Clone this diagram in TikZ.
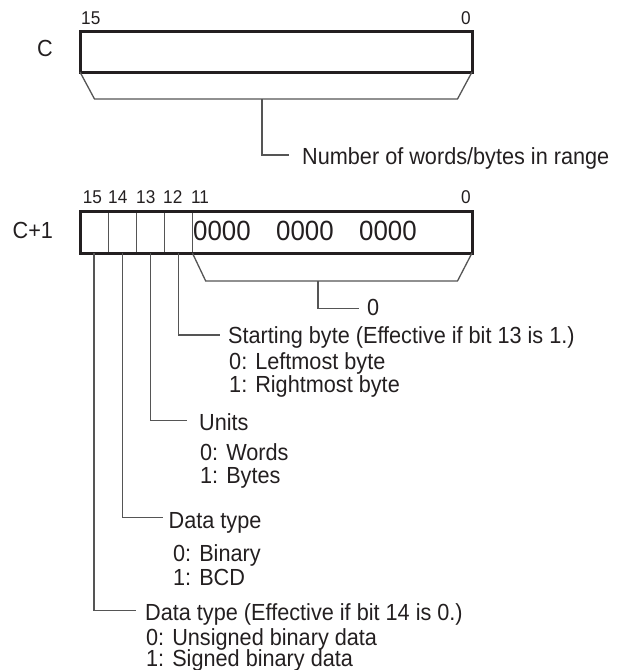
\documentclass[tikz,border=0pt]{standalone}
\usepackage{fontspec}
\setmainfont[FakeStretch=0.93]{Liberation Sans}
\definecolor{ink}{HTML}{231F20}
\definecolor{lgray}{HTML}{555555}
\begin{document}
\begin{tikzpicture}[x=1pt,y=-1pt,
  txt/.style={inner sep=0pt,anchor=base west,font=\fontsize{23.3}{26}\selectfont,text=ink},
  bitlbl/.style={inner sep=0pt,anchor=base west,font=\fontsize{18.5}{20}\selectfont,text=ink},
  zeros/.style={inner sep=0pt,anchor=base west,font=\fontsize{27.8}{30}\selectfont,text=ink},
  regbox/.style={draw=ink,line width=3pt,inner sep=0pt,outer sep=0pt,minimum width=392pt,anchor=north west},
  cell/.style={draw=lgray,line width=1.2pt,inner sep=0pt,outer sep=0pt,minimum width=28.1pt,minimum height=42pt,anchor=north west},
  thinl/.style={draw=lgray,line width=1.3pt},
]
\useasboundingbox (0,0) rectangle (618,670);

% ---------- word C ----------
\node[txt,anchor=base] (lblC) at (45,56) {C};
\node[bitlbl] (c15) at (81,24.4) {15};
\node[bitlbl,anchor=base east] (c0) at (471,24.4) {0};
\node[regbox,minimum height=41pt] (C) at (80,31) {};
\coordinate (tA) at (94.5,99);
\coordinate (tB) at (457.5,99);
\draw[thinl] (C.south west) -- (tA) -- (tB) -- (C.south east);
\coordinate (nTop) at (262,99);
\coordinate (nEnd) at (289,155);
\draw[thinl] (nTop) |- (nEnd);
\node[txt] (lblN) at (302,164) {Number of words/bytes in range};

% ---------- word C+1 ----------
\node[txt] (lblC1) at (12.5,238) {C+1};
\node[bitlbl] (d15) at (82.6,203.5) {15};
\node[bitlbl] (d14) at (108,203.5) {14};
\node[bitlbl] (d13) at (136,203.5) {13};
\node[bitlbl] (d12) at (163,203.5) {12};
\node[bitlbl] (d11) at (191,203.5) {11};
\node[bitlbl,anchor=base east] (d0) at (471,203.5) {0};

\node[cell] (b15) at (80,211) {};
\node[cell] (b14) at (b15.north east) {};
\node[cell] (b13) at (b14.north east) {};
\node[cell] (b12) at (b13.north east) {};
\node[regbox,minimum height=42pt] (C1) at (80,211) {};

\node[zeros] (z1) at (193,240) {0000};
\node[zeros] (z2) at (276,240) {0000};
\node[zeros] (z3) at (359,240) {0000};

\coordinate (uA) at (205.7,281);
\coordinate (uB) at (457.5,281);
\draw[thinl] (b12.south east) -- (uA) -- (uB) -- (C1.south east);
\coordinate (zTop) at (318,281);
\coordinate (zEnd) at (359,308.3);
\draw[thinl] (zTop) |- (zEnd);
\node[txt] (lblZ) at (367,315.5) {0};

% bit 12
\coordinate (s12) at (220,335);
\draw[thinl] (b12.south) |- (s12);
\node[txt] (t12a) at (228,343.5) {Starting byte (Effective if bit 13 is 1.)};
\node[txt] (t12b) at (229,369) {0: Leftmost byte};
\node[txt] (t12c) at (229,392.5) {1: Rightmost byte};

% bit 13
\coordinate (s13) at (186.7,420.7);
\draw[thinl] (b13.south) |- (s13);
\node[txt] (t13a) at (199,430) {Units};
\node[txt] (t13b) at (200,460) {0: Words};
\node[txt] (t13c) at (200,483.5) {1: Bytes};

% bit 14
\coordinate (s14) at (162.7,517.7);
\draw[thinl] (b14.south) |- (s14);
\node[txt] (t14a) at (168.5,528.5) {Data type};
\node[txt] (t14b) at (173,561.5) {0: Binary};
\node[txt] (t14c) at (173,585) {1: BCD};

% bit 15
\coordinate (s15) at (136,610.7);
\draw[thinl] (b15.south) |- (s15);
\node[txt] (t15a) at (145,620) {Data type (Effective if bit 14 is 0.)};
\node[txt] (t15b) at (146,645.5) {0: Unsigned binary data};
\node[txt] (t15c) at (146,666.5) {1: Signed binary data};
\end{tikzpicture}
\end{document}
